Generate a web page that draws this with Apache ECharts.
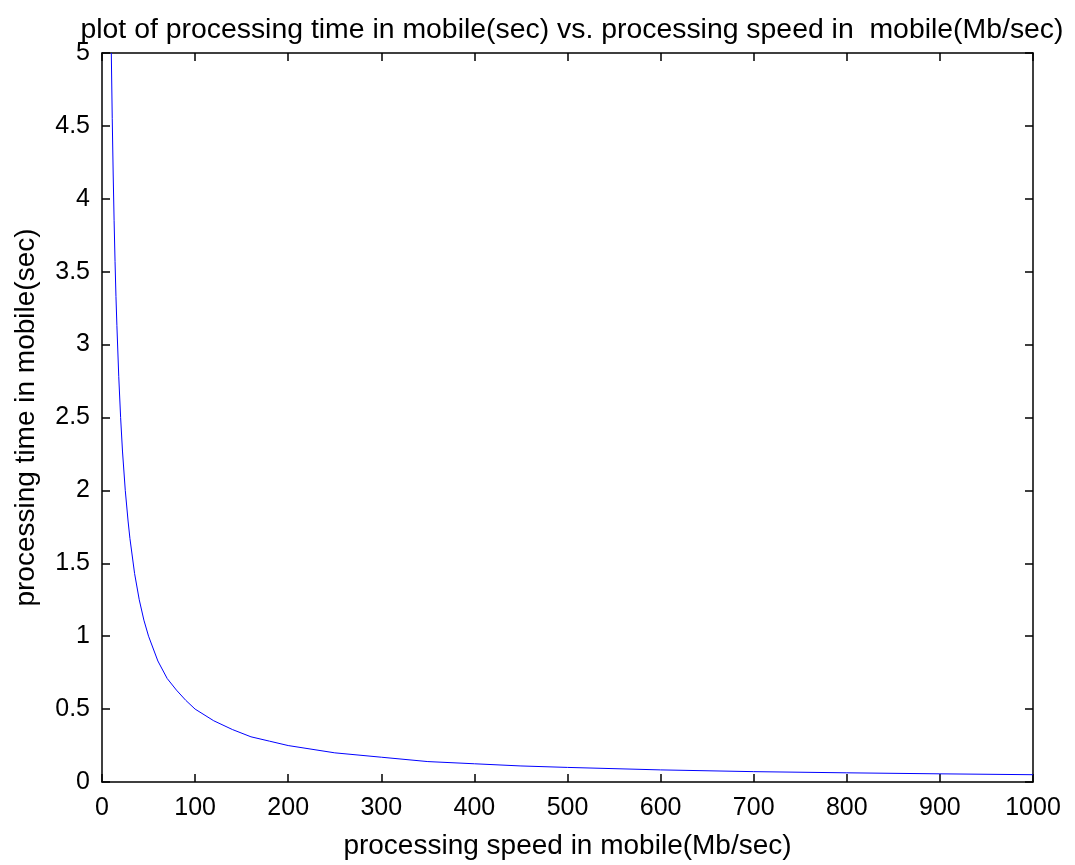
<!DOCTYPE html>
<html><head><meta charset="utf-8">
<script src="https://cdn.jsdelivr.net/npm/echarts@6/dist/echarts.min.js"></script>
<style>html,body{margin:0;padding:0;background:#fff;}#c{width:1075px;height:865px;}</style>
</head><body><div id="c"></div>
<script>
const titleText = 'plot of processing time in mobile(sec) vs. processing speed in  mobile(Mb/sec)';
const xLabel = 'processing speed in mobile(Mb/sec)';
const yLabel = 'processing time in mobile(sec)';
const speed = [10,11,12,13,14,15,16,18,20,22,25,28,30,35,40,45,50,60,70,80,90,100,120,140,160,180,200,250,300,350,400,450,500,600,700,800,900,1000];
const time  = [5,4.55,4.17,3.85,3.57,3.33,3.13,2.78,2.5,2.27,2.0,1.79,1.67,1.43,1.25,1.11,1.0,0.83,0.71,0.63,0.56,0.5,0.42,0.36,0.31,0.28,0.25,0.2,0.17,0.14,0.125,0.11,0.1,0.083,0.071,0.063,0.056,0.05];
const data = speed.map((s,i)=>[s,time[i]]);
const font = 'Liberation Sans, Arial, sans-serif';
const chart = echarts.init(document.getElementById('c'), null, {renderer:'canvas'});
const axLine = {show:true, onZero:false, lineStyle:{color:'#000', width:1.5}};
const tick = {show:true, inside:true, length:8, lineStyle:{color:'#000', width:1.5}};
chart.setOption({
  animation:false,
  backgroundColor:'#fff',
  title:{text:titleText, left:567, top:11, textAlign:'center',
    textStyle:{fontFamily:font, fontSize:28.4, fontWeight:'normal', color:'#000'}},
  grid:{left:102, right:42, top:53, bottom:78, containLabel:false},
  xAxis:[
    {type:'value', min:0, max:1000, interval:100, position:'bottom',
     name:xLabel, nameLocation:'middle', nameGap:50,
     nameTextStyle:{fontFamily:font, fontSize:28, color:'#000'},
     axisLine:axLine, axisTick:tick, splitLine:{show:false},
     axisLabel:{fontFamily:font, fontSize:25, color:'#000', margin:14, formatter:v=>String(v)}},
    {type:'value', min:0, max:1000, interval:100, position:'top',
     axisLine:axLine, axisTick:tick, splitLine:{show:false}, axisLabel:{show:false}}
  ],
  yAxis:[
    {type:'value', min:0, max:5, interval:0.5, position:'left',
     name:yLabel, nameLocation:'middle', nameGap:62,
     nameTextStyle:{fontFamily:font, fontSize:28, color:'#000'},
     axisLine:axLine, axisTick:tick, splitLine:{show:false},
     axisLabel:{fontFamily:font, fontSize:25, color:'#000', margin:12, formatter:v=>String(v)}},
    {type:'value', min:0, max:5, interval:0.5, position:'right',
     axisLine:axLine, axisTick:tick, splitLine:{show:false}, axisLabel:{show:false}}
  ],
  series:[{type:'line', data:data, showSymbol:false, smooth:false,
    lineStyle:{color:'#0000ff', width:1}, xAxisIndex:0, yAxisIndex:0}]
});
</script></body></html>
